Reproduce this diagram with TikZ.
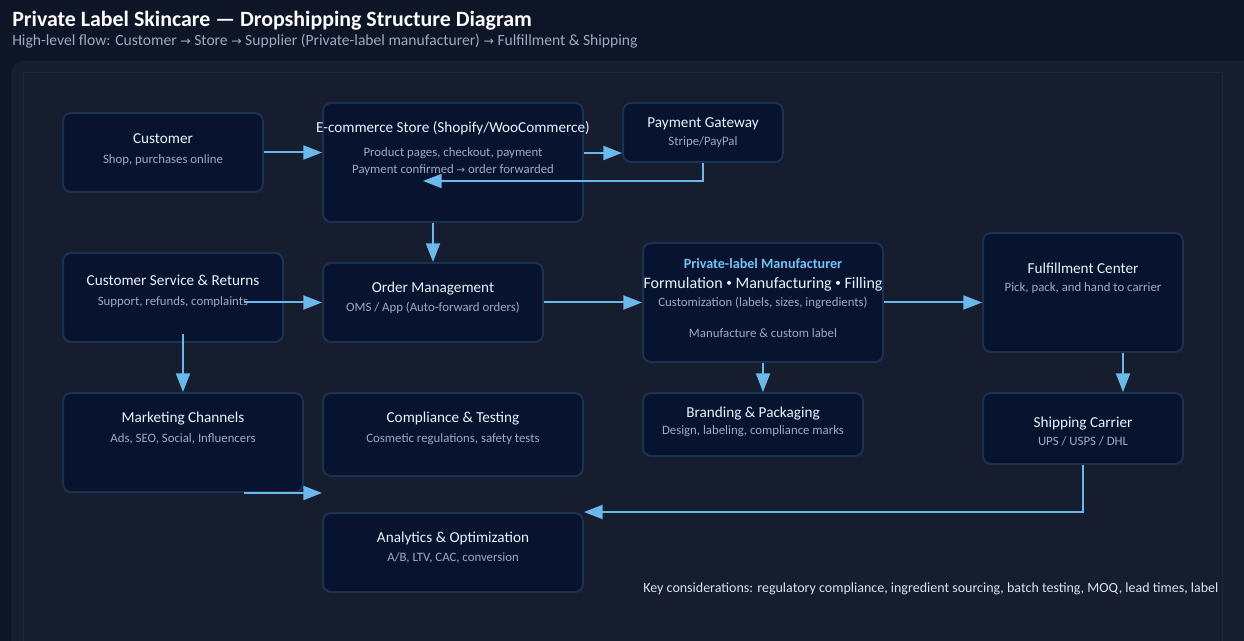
\documentclass[tikz,border=0pt]{standalone}
\usepackage{graphicx}
\usepackage{fontspec}
\setmainfont{Carlito}
\newfontfamily\symfnt{DejaVu Sans}
\newcommand{\rarr}{\scalebox{0.8}{\symfnt →}}
\newcommand{\bulsep}{\raisebox{0.15em}{\scalebox{0.7}{•}}}
\usetikzlibrary{arrows.meta,calc}

\definecolor{bgdark}{HTML}{0D1527}
\definecolor{panelbg}{HTML}{151D2F}
\definecolor{panelline}{HTML}{1D2739}
\definecolor{boxfill}{HTML}{08142F}
\definecolor{boxline}{HTML}{1B3150}
\definecolor{flow}{HTML}{6AB9EA}
\definecolor{ttltext}{HTML}{EAF2FF}
\definecolor{subtext}{HTML}{9AABC4}
\definecolor{hitext}{HTML}{6FC4F5}
\definecolor{notetext}{HTML}{D3E5F7}

\begin{document}
\begin{tikzpicture}[x=0.75pt,y=-0.75pt,
    box/.style 2 args={draw=boxline, line width=1.5pt, fill=boxfill, rounded corners=6pt,
        minimum width=#1*0.75pt, minimum height=#2*0.75pt, inner sep=0pt},
    ttl/.style={text=ttltext, font=\fontsize{11.4}{13}\selectfont, inner sep=0pt, yshift=-1.2pt},
    sub/.style={text=subtext, font=\fontsize{9.6}{11}\selectfont, inner sep=0pt, yshift=-1.2pt},
    flowline/.style={draw=flow, line width=1.5pt, -{Triangle[length=14pt,width=10.5pt]}}]

    % background and panel
    \useasboundingbox (0,0) rectangle (1244,641);
    \fill[bgdark] (0,0) rectangle (1244,641);
    \fill[panelbg, rounded corners=9pt] (11,61) rectangle (1290,700);
    \draw[panelline, line width=0.75pt] (23,73) rectangle (1222,700);

    % heading
    \node[anchor=base west, inner sep=0pt, text=white, font=\fontsize{16.4}{18}\bfseries\selectfont]
        (head) at (12,27) {Private Label Skincare — Dropshipping Structure Diagram};
    \node[anchor=base west, inner sep=0pt, text=subtext, font=\fontsize{11.7}{13}\selectfont]
        (headsub) at (12,46) {High-level flow: Customer \rarr{} Store \rarr{} Supplier (Private-label manufacturer) \rarr{} Fulfillment \& Shipping};

    % boxes, first row
    \node[box={200}{79}] (cust) at (163,152.5) {};
    \node[box={260}{119}] (store) at (453,162.5) {};
    \node[box={160}{59}] (pay) at (703,132.5) {};

    % boxes, second row
    \node[box={220}{89}] (csr) at (173,297.5) {};
    \node[box={220}{79}] (order) at (433,302.5) {};
    \node[box={240}{119}] (mfr) at (763,302.5) {};
    \node[box={200}{119}] (ful) at (1083,292.5) {};

    % boxes, third row
    \node[box={240}{99}] (mkt) at (183,442.5) {};
    \node[box={260}{83}] (comp) at (453,434.5) {};
    \node[box={220}{63}] (brand) at (753,424.5) {};
    \node[box={200}{71}] (ship) at (1083,428.5) {};
    \node[box={260}{79}] (ana) at (453,552.5) {};

    % box texts
    \node[ttl] (custT) at ($(cust.north)+(0,25)$) {Customer};
    \node[sub] (custS) at ($(cust.north)+(0,46)$) {Shop, purchases online};

    \node[ttl] (storeT) at ($(store.north)+(0,25)$) {E-commerce Store (Shopify/WooCommerce)};
    \node[sub] (storeS) at ($(store.north)+(0,50)$) {Product pages, checkout, payment};
    \node[sub] (storeS2) at ($(store.north)+(0,66)$) {Payment confirmed \rarr{} order forwarded};

    \node[ttl] (payT) at ($(pay.north)+(0,20)$) {Payment Gateway};
    \node[sub] (payS) at ($(pay.north)+(0,38)$) {Stripe/PayPal};

    \node[ttl] (csrT) at ($(csr.north)+(0,27)$) {Customer Service \& Returns};
    \node[sub] (csrS) at ($(csr.north)+(0,48)$) {Support, refunds, complaints};

    \node[ttl] (orderT) at ($(order.north)+(0,25)$) {Order Management};
    \node[sub] (orderS) at ($(order.north)+(0,44)$) {OMS / App (Auto-forward orders)};

    \node[inner sep=0pt, text=hitext, font=\fontsize{10.6}{12}\bfseries\selectfont, yshift=-1.2pt]
        (mfrT) at ($(mfr.north)+(0,20)$) {Private-label Manufacturer};
    \node[ttl, font=\fontsize{12}{13}\selectfont] (mfrT2) at ($(mfr.north)+(0,41)$) {Formulation \bulsep{} Manufacturing \bulsep{} Filling};
    \node[sub] (mfrS) at ($(mfr.north)+(0,59)$) {Customization (labels, sizes, ingredients)};
    \node[sub] (mfrS2) at ($(mfr.north)+(0,90)$) {Manufacture \& custom label};

    \node[ttl] (fulT) at ($(ful.north)+(0,35)$) {Fulfillment Center};
    \node[sub] (fulS) at ($(ful.north)+(0,54)$) {Pick, pack, and hand to carrier};

    \node[ttl] (mktT) at ($(mkt.north)+(0,25)$) {Marketing Channels};
    \node[sub] (mktS) at ($(mkt.north)+(0,45)$) {Ads, SEO, Social, Influencers};

    \node[ttl] (compT) at ($(comp.north)+(0,25)$) {Compliance \& Testing};
    \node[sub] (compS) at ($(comp.north)+(0,46)$) {Cosmetic regulations, safety tests};

    \node[ttl] (brandT) at ($(brand.north)+(0,20)$) {Branding \& Packaging};
    \node[sub] (brandS) at ($(brand.north)+(0,38)$) {Design, labeling, compliance marks};

    \node[ttl] (shipT) at ($(ship.north)+(0,30)$) {Shipping Carrier};
    \node[sub] (shipS) at ($(ship.north)+(0,48)$) {UPS / USPS / DHL};

    \node[ttl] (anaT) at ($(ana.north)+(0,25)$) {Analytics \& Optimization};
    \node[sub] (anaS) at ($(ana.north)+(0,44)$) {A/B, LTV, CAC, conversion};

    % note
    \node[anchor=base west, inner sep=0pt, text=notetext, font=\fontsize{10.5}{12}\selectfont]
        (note) at (643,592) {Key considerations: regulatory compliance, ingredient sourcing, batch testing, MOQ, lead times, label};

    % arrows
    \draw[flowline] (cust.east) -- (cust.east -| store.west);
    \draw[flowline] ($(store.east)+(0,-9.5)$) coordinate (storeOut) -- (storeOut -| pay.west);
    \draw[flowline] (pay.south) |- ($(store.north)+(-30,79)$);
    \draw[flowline] (order.north |- store.south) -- (order.north);
    \draw[flowline] ($(csr.east)+(-40,5)$) coordinate (csrOut) -- (csrOut -| order.west);
    \draw[flowline] (order.east) -- (mfr.west);
    \draw[flowline] (mfr.east) -- (mfr.east -| ful.west);
    \draw[flowline] ($(csr.south -| mkt.north)+(0,-9)$) -- (mkt.north);
    \draw[flowline] ($(mkt.south east)+(-60,0)$) -- (mkt.south east -| comp.west);
    \draw[flowline] (mfr.south) -- (mfr.south |- brand.north);
    \draw[flowline] ($(ful.south)+(40,0)$) -- ($(ship.north)+(40,0)$);
    \draw[flowline] (ship.south) |- (ana.north east);

\end{tikzpicture}
\end{document}
